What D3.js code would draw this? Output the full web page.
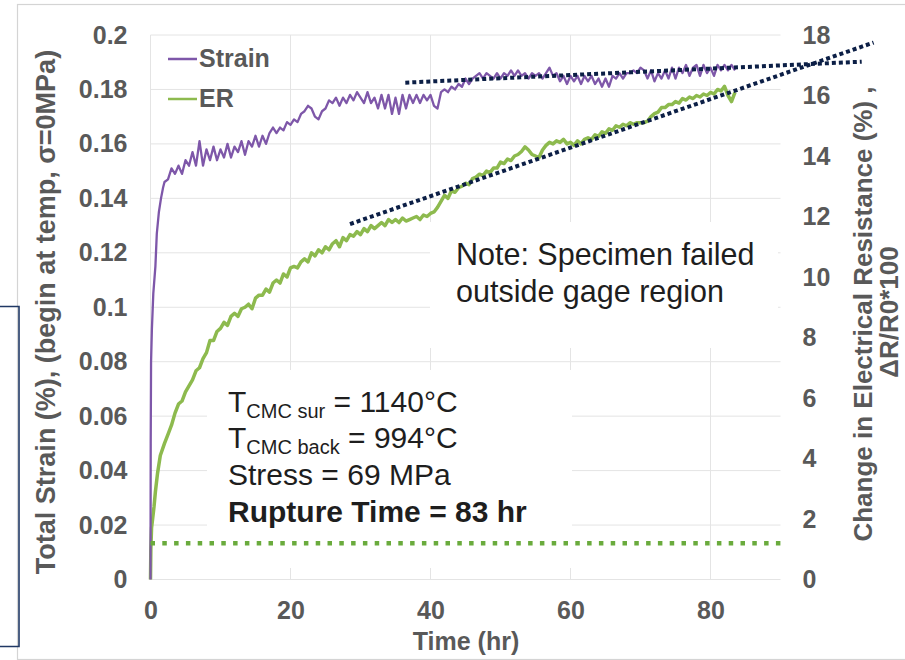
<!DOCTYPE html>
<html>
<head>
<meta charset="utf-8">
<script src="https://cdn.jsdelivr.net/npm/d3@7"></script>
<style>
  body { margin: 0; background: #fff; }
  svg { display: block; font-family: "Liberation Sans", Arial, sans-serif; }
</style>
</head>
<body>
<div id="chart"></div>
<script>
// time (hr), total strain (%)
var strainData = [
  [0,0],[0.03,0.05],[0.08,0.08],[0.2,0.092],[0.4,0.105],[0.7,0.115],[0.9,0.127],[1.2,0.135],[1.5,0.14],[1.8,0.144],
  [2,0.146],[2.5,0.147],[3,0.151],[3.5,0.149],[4,0.152],[4.5,0.149],[5,0.154],[5.5,0.152],[6,0.157],[6.5,0.152],
  [7,0.161],[7.5,0.152],[8,0.158],[8.5,0.154],[9,0.159],[9.5,0.154],[10,0.158],[10.5,0.155],[11,0.16],[11.5,0.155],
  [12,0.159],[12.5,0.157],[13,0.161],[13.5,0.156],[14,0.161],[14.5,0.159],[15,0.163],[15.5,0.159],[16,0.163],[16.5,0.16],
  [17,0.164],[17.5,0.166],[18,0.164],[18.5,0.166],[19,0.165],[19.5,0.168],[20,0.167],[20.5,0.169],[21,0.168],[21.5,0.171],
  [22,0.172],[22.5,0.174],[23,0.173],[23.5,0.17],[24,0.169],[24.5,0.172],[25,0.173],[25.5,0.176],[26,0.175],[26.5,0.177],
  [27,0.174],[27.5,0.177],[28,0.175],[28.5,0.178],[29,0.176],[29.5,0.179],[30,0.177],[30.5,0.175],[31,0.179],[31.5,0.175],
  [32,0.177],[32.5,0.173],[33,0.178],[33.5,0.173],[34,0.178],[34.5,0.171],[35,0.177],[35.5,0.171],[36,0.178],[36.5,0.173],
  [37,0.178],[37.5,0.175],[38,0.178],[38.5,0.175],[39,0.178],[39.5,0.176],[40,0.178],[40.5,0.174],[41,0.173],[41.5,0.179],
  [42,0.18],[42.5,0.179],[43,0.181],[43.5,0.18],[44,0.182],[44.5,0.181],[45,0.184],[45.5,0.182],[46,0.184],[46.5,0.185],
  [47,0.186],[47.5,0.184],[48,0.186],[48.5,0.185],[49,0.184],[49.5,0.186],[50,0.184],[50.5,0.186],[51,0.185],[51.5,0.187],
  [52,0.185],[52.5,0.187],[53,0.185],[53.5,0.186],[54,0.184],[54.5,0.186],[55,0.185],[55.5,0.186],[56,0.184],[56.5,0.186],
  [57,0.188],[57.5,0.185],[58,0.186],[58.5,0.183],[59,0.185],[59.5,0.182],[60,0.185],[60.5,0.183],[61,0.185],[61.5,0.182],
  [62,0.185],[62.5,0.183],[63,0.185],[63.5,0.182],[64,0.184],[64.5,0.181],[65,0.184],[65.5,0.181],[66,0.185],[66.5,0.184],
  [67,0.186],[67.5,0.184],[68,0.186],[68.5,0.186],[69,0.187],[69.5,0.186],[70,0.188],[70.5,0.187],[71,0.184],[71.5,0.187],
  [72,0.183],[72.5,0.186],[73,0.184],[73.5,0.187],[74,0.184],[74.5,0.188],[75,0.184],[75.5,0.188],[76,0.186],[76.5,0.189],
  [77,0.185],[77.5,0.188],[78,0.189],[78.5,0.185],[79,0.189],[79.5,0.186],[80,0.188],[80.5,0.185],[81,0.189],[81.5,0.187],
  [82,0.189],[82.5,0.187],[83,0.189],[83.5,0.187]
];

// time (hr), change in electrical resistance (%)
var erData = [
  [0,0],[0.05,1.0],[0.15,1.7],[0.3,2.0],[0.5,2.4],[0.7,2.9],[1,3.5],[1.4,4.1],
  [2,4.5],[2.5,4.8],[3,5.1],[3.5,5.5],[4,5.8],[4.5,5.9],[5,6.2],[5.5,6.4],[6,6.6],[6.5,6.9],
  [7,7.0],[7.5,7.3],[8,7.5],[8.5,7.9],[9,7.9],[9.5,8.2],[10,8.3],[10.5,8.5],[11,8.4],[11.5,8.7],
  [12,8.8],[12.5,8.7],[13,8.95],[13.5,9.0],[14,9.1],[14.5,8.95],[15,9.3],[15.5,9.4],[16,9.4],[16.5,9.6],
  [17,9.5],[17.5,9.8],[18,9.9],[18.5,9.8],[19,10.1],[19.5,10.0],[20,10.3],[20.5,10.35],[21,10.3],[21.5,10.5],
  [22,10.6],[22.5,10.5],[23,10.8],[23.5,10.7],[24,10.9],[24.5,10.8],[25,11.0],[25.5,10.9],[26,11.1],[26.5,11.2],
  [27,11.0],[27.5,11.3],[28,11.2],[28.5,11.4],[29,11.35],[29.5,11.5],[30,11.4],[30.5,11.6],[31,11.5],[31.5,11.7],
  [32,11.6],[32.5,11.7],[33,11.8],[33.5,11.7],[34,11.9],[34.5,11.8],[35,11.9],[35.5,11.8],[36,11.95],[36.5,11.85],
  [37,11.9],[37.5,11.95],[38,12.0],[38.5,11.9],[39,12.05],[39.5,12.0],[40,12.1],[40.5,12.15],[41,12.3],[41.5,12.5],
  [42,12.7],[42.5,12.6],[43,12.85],[43.5,12.8],[44,12.95],[44.5,13.0],[45,13.1],[45.5,13.05],[46,13.25],[46.5,13.3],
  [47,13.4],[47.5,13.35],[48,13.5],[48.5,13.45],[49,13.6],[49.5,13.6],[50,13.8],[50.5,13.75],[51,13.9],[51.5,13.85],
  [52,14.0],[52.5,14.05],[53,14.15],[53.5,14.3],[54,14.2],[54.5,14.05],[55,14.0],[55.5,13.95],[56,14.2],[56.5,14.35],
  [57,14.45],[57.5,14.4],[58,14.5],[58.5,14.45],[59,14.55],[59.5,14.4],[60,14.45],[60.5,14.35],[61,14.5],[61.5,14.4],
  [62,14.55],[62.5,14.6],[63,14.55],[63.5,14.7],[64,14.65],[64.5,14.8],[65,14.75],[65.5,14.9],[66,14.85],[66.5,15.0],
  [67,14.95],[67.5,15.05],[68,15.0],[68.5,15.1],[69,15.05],[69.5,15.1],[70,15.1],[70.5,15.1],[71,15.15],[71.5,15.3],
  [72,15.4],[72.5,15.45],[73,15.6],[73.5,15.6],[74,15.7],[74.5,15.7],[75,15.8],[75.5,15.75],[76,15.9],[76.5,15.85],
  [77,15.95],[77.5,15.9],[78,16.0],[78.5,15.95],[79,16.05],[79.5,16.0],[80,16.1],[80.5,16.05],[81,16.2],[81.5,16.15],
  [82,16.3],[82.5,16.0],[83,15.8],[83.5,16.1]
];

// dotted trend lines and the baseline ER level
var strainTrend = [[36.4,0.1825],[101.6,0.1902]];
var erTrend = [[28.5,11.75],[103.3,17.75]];
var erBaseline = [[0,1.2],[90,1.2]];

var xTicks = [0,20,40,60,80];
var leftTicks = [0,0.02,0.04,0.06,0.08,0.1,0.12,0.14,0.16,0.18,0.2];
var leftTickLabels = ["0","0.02","0.04","0.06","0.08","0.1","0.12","0.14","0.16","0.18","0.2"];
var rightTicks = [0,2,4,6,8,10,12,14,16,18];

var W = 905, H = 660;
var plot = {left:150.5, right:780.5, top:35, bottom:579.5};
var gray = '#595959', purple = '#7e57a9', green = '#8dba4e';

var svg = d3.select('#chart').append('svg').attr('width',W).attr('height',H);

var x = d3.scaleLinear().domain([0,90]).range([plot.left,plot.right]);
var yL = d3.scaleLinear().domain([0,0.2]).range([plot.bottom,plot.top]);
var yR = d3.scaleLinear().domain([0,18]).range([plot.bottom,plot.top]);

// outer frame pieces
svg.append('rect').attr('x',17.5).attr('y',4.5).attr('width',W).attr('height',655)
  .attr('fill','none').attr('stroke','#d4d4d4').attr('stroke-width',1.2);
svg.append('path').attr('d','M-2,306.5H19V646.5H-2')
  .attr('fill','none').attr('stroke','#203864').attr('stroke-width',1.6);

// gridlines
svg.append('g').selectAll('line.h').data(leftTicks).enter().append('line')
  .attr('x1',plot.left).attr('x2',plot.right)
  .attr('y1',function(d){return yL(d)}).attr('y2',function(d){return yL(d)})
  .attr('stroke','#e4e4e4').attr('stroke-width',1);
svg.append('g').selectAll('line.v').data(xTicks).enter().append('line')
  .attr('x1',function(d){return x(d)}).attr('x2',function(d){return x(d)})
  .attr('y1',plot.top).attr('y2',plot.bottom)
  .attr('stroke','#e4e4e4').attr('stroke-width',1);

// white text boxes hide grid behind annotations
svg.append('rect').attr('x',430).attr('y',222).attr('width',348).attr('height',126).attr('fill','#fff');
svg.append('rect').attr('x',207).attr('y',370).attr('width',365).attr('height',198).attr('fill','#fff');

// axes
function styleAxis(g){
  g.select('.domain').remove();
  g.selectAll('.tick line').remove();
  g.selectAll('text').attr('fill',gray).style('font-size','25px').style('font-weight','bold')
    .style('font-family','"Liberation Sans", Arial, sans-serif');
}
svg.append('g').attr('transform','translate(0,'+plot.bottom+')')
  .call(d3.axisBottom(x).tickValues(xTicks).tickSize(0).tickPadding(22).tickFormat(d3.format('d')))
  .call(styleAxis);
svg.append('g').attr('transform','translate('+plot.left+',0)')
  .call(d3.axisLeft(yL).tickValues(leftTicks).tickSize(0).tickPadding(23)
    .tickFormat(function(d,i){return leftTickLabels[i]}))
  .call(styleAxis);
svg.append('g').attr('transform','translate('+plot.right+',0)')
  .call(d3.axisRight(yR).tickValues(rightTicks).tickSize(0).tickPadding(22).tickFormat(d3.format('d')))
  .call(styleAxis);

// axis titles
svg.append('text').attr('x',466).attr('y',650).attr('text-anchor','middle')
  .attr('fill',gray).style('font-size','25px').style('font-weight','bold').text('Time (hr)');
svg.append('text').attr('transform','translate(55,312) rotate(-90)').attr('text-anchor','middle')
  .attr('fill',gray).style('font-size','27px').style('font-weight','bold')
  .text('Total Strain (%), (begin at temp, \u03c3=0MPa)');
svg.append('text').attr('transform','translate(872,314) rotate(-90)').attr('text-anchor','middle')
  .attr('fill',gray).style('font-size','26px').style('font-weight','bold')
  .text('Change in Electrical Resistance (%) ,');
svg.append('text').attr('transform','translate(898,312) rotate(-90)').attr('text-anchor','middle')
  .attr('fill',gray).style('font-size','26px').style('font-weight','bold')
  .text('\u0394R/R0*100');

// series
var lineL = d3.line().x(function(d){return x(d[0])}).y(function(d){return yL(d[1])});
var lineR = d3.line().x(function(d){return x(d[0])}).y(function(d){return yR(d[1])});

svg.append('path').datum(erData).attr('d',lineR)
  .attr('fill','none').attr('stroke',green).attr('stroke-width',3.5).attr('stroke-linejoin','round');
svg.append('path').datum(strainData).attr('d',lineL)
  .attr('fill','none').attr('stroke',purple).attr('stroke-width',2.3).attr('stroke-linejoin','round');

svg.append('path').datum(erBaseline).attr('d',lineR)
  .attr('fill','none').attr('stroke','#6aab3d').attr('stroke-width',4.5).attr('stroke-dasharray','4.5,7.3');
svg.append('path').datum(strainTrend).attr('d',lineL)
  .attr('fill','none').attr('stroke','#0c1f46').attr('stroke-width',4).attr('stroke-dasharray','4,3');
svg.append('path').datum(erTrend).attr('d',lineR)
  .attr('fill','none').attr('stroke','#0c1f46').attr('stroke-width',4).attr('stroke-dasharray','4,3');

// legend
var legend = [{name:'Strain',color:purple,y:59},{name:'ER',color:green,y:99}];
var lg = svg.append('g').selectAll('g').data(legend).enter().append('g');
lg.append('line').attr('x1',168).attr('x2',197)
  .attr('y1',function(d){return d.y}).attr('y2',function(d){return d.y})
  .attr('stroke',function(d){return d.color}).attr('stroke-width',2.5);
lg.append('text').attr('x',199).attr('y',function(d){return d.y+8})
  .attr('fill',gray).style('font-size','25px').style('font-weight','bold')
  .text(function(d){return d.name});

// annotations
var ink = '#1e1e1e';
svg.append('text').attr('x',456).attr('y',265).attr('fill',ink).style('font-size','30.5px')
  .text('Note: Specimen failed');
svg.append('text').attr('x',456).attr('y',302).attr('fill',ink).style('font-size','30.5px')
  .text('outside gage region');

var cond = [{sub:'CMC sur',rest:' = 1140\u00b0C',y:412},{sub:'CMC back',rest:' = 994\u00b0C',y:448}];
cond.forEach(function(c){
  var t = svg.append('text').attr('x',228).attr('y',c.y).attr('fill',ink).style('font-size','30px');
  t.append('tspan').text('T');
  t.append('tspan').attr('dy',6).style('font-size','20px').text(c.sub);
  t.append('tspan').attr('dy',-6).text(c.rest);
});
svg.append('text').attr('x',228).attr('y',485).attr('fill',ink).style('font-size','30px')
  .text('Stress = 69 MPa');
svg.append('text').attr('x',228).attr('y',522).attr('fill',ink).style('font-size','30px')
  .style('font-weight','bold').text('Rupture Time = 83 hr');
</script>
</body>
</html>
